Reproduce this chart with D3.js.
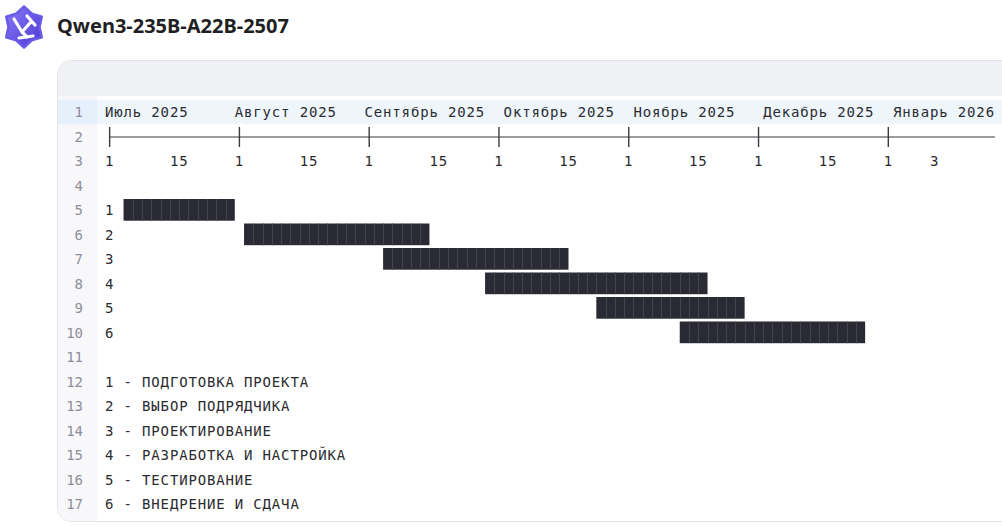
<!DOCTYPE html>
<html><head><meta charset="utf-8">
<script src="https://cdn.jsdelivr.net/npm/d3@7"></script>
<style>html,body{margin:0;padding:0;background:#fff;overflow:hidden}</style>
</head><body>
<svg id="c" width="1002" height="526"></svg>
<script>
// ---------- data ----------
const title = "Qwen3-235B-A22B-2507";
const monthLabels = ["Июль 2025","Август 2025","Сентябрь 2025","Октябрь 2025","Ноябрь 2025","Декабрь 2025","Январь 2026"];
const monthStarts = ["2025-07-01","2025-08-01","2025-09-01","2025-10-01","2025-11-01","2025-12-01","2026-01-01"];
const dayTickLabels = ["1","15","1","15","1","15","1","15","1","15","1","15","1","3"];
const dayTickMonths = [0,0.5,1,1.5,2,2.5,3,3.5,4,4.5,5,5.5,6,6.36];
const taskIds = ["1","2","3","4","5","6"];
const taskNames = ["ПОДГОТОВКА ПРОЕКТА","ВЫБОР ПОДРЯДЧИКА","ПРОЕКТИРОВАНИЕ","РАЗРАБОТКА И НАСТРОЙКА","ТЕСТИРОВАНИЕ","ВНЕДРЕНИЕ И СДАЧА"];
const taskStarts = ["2025-07-05","2025-08-03","2025-09-05","2025-09-29","2025-10-25","2025-11-14"];
const taskEnds   = ["2025-08-01","2025-09-16","2025-10-19","2025-11-20","2025-11-29","2025-12-28"];
const lineCount = 17;

// ---------- layout ----------
const svg = d3.select("#c");
const MONO = "'DejaVu Sans Mono', monospace";
const CW = 9.27;           // monospace cell width
const FS = 14;
const LS = CW - FS * 0.6021;
const textCol = "#2b2b30";

function monthFrac(s) {
  const [y, m, d] = s.split("-").map(Number);
  const days = new Date(y, m, 0).getDate();
  return (y - 2025) * 12 + (m - 1) - 6 + (d - 1) / days;
}
const colOf = d3.scaleLinear().domain([0, 1]).range([0, 14]);        // months -> char columns
const xOfCol = d3.scaleLinear().domain([0, 1]).range([105, 105 + CW]); // columns -> px
const xSnap = m => xOfCol(Math.round(colOf(m)));
const rowY = d3.scaleLinear().domain([1, 2]).range([112, 136.5]);    // line centres

// ---------- header ----------
const defs = svg.append("defs");
const g1 = defs.append("linearGradient").attr("id","lg").attr("x1","0").attr("y1","0").attr("x2","1").attr("y2","1");
g1.append("stop").attr("offset","0").attr("stop-color","#8a7cf6");
g1.append("stop").attr("offset","1").attr("stop-color","#4a36d4");
const logo = svg.append("g").attr("transform","translate(24,27)");
const star = [];
for (let i = 0; i < 12; i++) {
  const a = Math.PI / 6 * i - Math.PI / 2;
  const r = i % 2 === 0 ? 20.5 : 15.5;
  star.push([r * Math.cos(a), r * Math.sin(a)]);
}
logo.append("path").attr("d", d3.line().curve(d3.curveLinearClosed)(star)).attr("fill","url(#lg)")
  .attr("stroke","#6a5ae8").attr("stroke-width",2.5).attr("stroke-linejoin","round");
logo.append("path").attr("d","M-10,-8 L-2,5 M3,-11 L11,-2 M-5,11 L9,9 M-2,5 L6,-4 M-2,5 L3,10")
  .attr("fill","none").attr("stroke","#fff").attr("stroke-width",3.2).attr("stroke-linecap","round");

svg.append("text").attr("x",57).attr("y",33).text(title)
  .attr("font-family","'Noto Sans', sans-serif").attr("font-weight",700).attr("font-size",20).attr("fill","#1f1f24");

// ---------- card ----------
const cardX = 57.5, cardY = 60.5, cardB = 521.5;
svg.append("rect").attr("x",cardX).attr("y",cardY).attr("width",1000).attr("height",cardB-cardY)
  .attr("rx",14).attr("fill","#fff").attr("stroke","#e3e3e8");
svg.append("clipPath").attr("id","cc").append("rect").attr("x",cardX+0.5).attr("y",cardY+0.5)
  .attr("width",999).attr("height",cardB-cardY-1).attr("rx",13.5);
const card = svg.append("g").attr("clip-path","url(#cc)");
card.append("rect").attr("x",cardX).attr("y",cardY).attr("width",1000).attr("height",35.5).attr("fill","#f0f1f5");
card.append("rect").attr("x",cardX).attr("y",96).attr("width",40).attr("height",cardB-96).attr("fill","#f8f8fa");
const r1 = rowY(1);
card.append("rect").attr("x",cardX).attr("y",r1-12.25).attr("width",1000).attr("height",24.5).attr("fill","#eef6fc");
card.append("rect").attr("x",cardX).attr("y",r1-12.25).attr("width",40).attr("height",24.5).attr("fill","#e6f0fa");

// line numbers
card.append("g").selectAll("text").data(d3.range(1, lineCount + 1)).join("text")
  .attr("x",83).attr("y",d => rowY(d) + 5).attr("text-anchor","end")
  .attr("font-family",MONO).attr("font-size",FS).attr("fill","#8e8e9a").text(d => d);

const mono = sel => sel.attr("font-family",MONO).attr("font-size",FS).attr("letter-spacing",LS)
  .attr("fill",textCol).attr("xml:space","preserve");

// ---------- month labels (line 1) ----------
const monthCols = monthStarts.map(s => Math.round(colOf(monthFrac(s))));
const labelCols = [];
monthLabels.forEach((l, i) => {
  let c = monthCols[i];
  if (i > 0) {
    const prevEnd = labelCols[i-1] + monthLabels[i-1].length;
    if (c < prevEnd + 3) c = c + 1;
  }
  labelCols.push(c);
});
card.append("g").selectAll("text").data(monthLabels).join("text").call(mono)
  .attr("x",(d,i) => xOfCol(labelCols[i])).attr("y",rowY(1) + 5).text(d => d);

// ---------- axis line (line 2) ----------
const axY = rowY(2) + 0.5;
const tickX = monthStarts.map(s => xSnap(monthFrac(s)) + CW / 2);
card.append("line").attr("x1",tickX[0]).attr("x2",xOfCol(96)).attr("y1",axY).attr("y2",axY)
  .attr("stroke","#3a3a40").attr("stroke-width",1.2);
card.append("g").selectAll("line").data(tickX).join("line")
  .attr("x1",d => d).attr("x2",d => d).attr("y1",axY - 10).attr("y2",axY + 10)
  .attr("stroke","#3a3a40").attr("stroke-width",1.4);

// ---------- day labels (line 3) ----------
card.append("g").selectAll("text").data(dayTickLabels).join("text").call(mono)
  .attr("x",(d,i) => xSnap(dayTickMonths[i])).attr("y",rowY(3) + 5).text(d => d);

// ---------- bars (lines 5-10) ----------
const tasks = taskIds.map((id, i) => ({id, name: taskNames[i], s: monthFrac(taskStarts[i]), e: monthFrac(taskEnds[i]), row: 5 + i}));
const gb = card.append("g");
gb.selectAll("text").data(tasks).join("text").call(mono)
  .attr("x",xOfCol(0)).attr("y",d => rowY(d.row) + 5).text(d => d.id);
gb.selectAll("rect").data(tasks).join("rect")
  .attr("x",d => xSnap(d.s)).attr("width",d => xSnap(d.e) - xSnap(d.s))
  .attr("y",d => rowY(d.row) - 11).attr("height",21.7).attr("fill","#2a2a35");
tasks.forEach(t => {
  const c0 = Math.round(colOf(t.s)), c1 = Math.round(colOf(t.e));
  gb.append("g").selectAll("line").data(d3.range(c0 + 1, c1)).join("line")
    .attr("x1",c => Math.round(xOfCol(c)) + 0.5).attr("x2",c => Math.round(xOfCol(c)) + 0.5)
    .attr("y1",rowY(t.row) - 11).attr("y2",rowY(t.row) + 10.7)
    .attr("stroke","#444450").attr("stroke-width",1);
});

// ---------- legend (lines 12-17) ----------
card.append("g").selectAll("text").data(tasks).join("text").call(mono)
  .attr("x",xOfCol(0)).attr("y",(d,i) => rowY(12 + i) + 5).text(d => `${d.id} - ${d.name}`);
</script>
</body></html>
